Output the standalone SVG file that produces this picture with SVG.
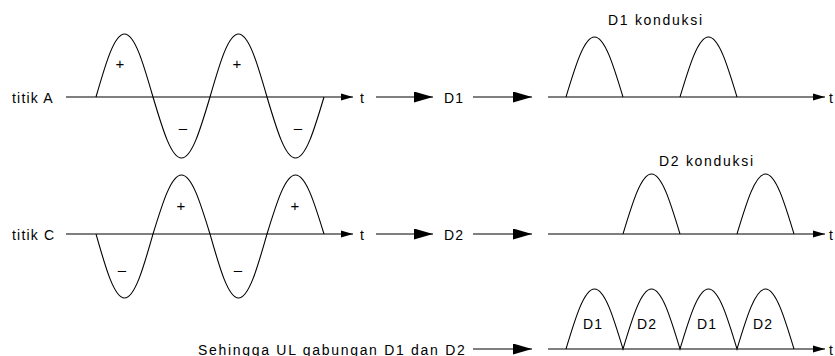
<svg xmlns="http://www.w3.org/2000/svg" width="835" height="356" viewBox="0 0 835 356">
<style>
  text { font-family: "Liberation Sans", Arial, sans-serif; font-size: 14px; fill: #000; letter-spacing: 1.2px; }
  .wide { letter-spacing: 1.7px; }
  .sign { text-anchor: middle; letter-spacing: 0; font-size: 15px; }
  .ln { stroke: #000; stroke-width: 1.1; fill: none; }
  .wave { stroke: #000; stroke-width: 1.1; fill: none; }
</style>
<defs>
  <marker id="sm" markerUnits="userSpaceOnUse" markerWidth="12" markerHeight="8" refX="12" refY="4" orient="auto">
    <path d="M0,0.5 L12,4 L0,7.5 Z" fill="#000"/>
  </marker>
  <marker id="big" markerUnits="userSpaceOnUse" markerWidth="19" markerHeight="11" refX="19" refY="5.5" orient="auto">
    <path d="M0,0 L19,5.5 L0,11 Z" fill="#000"/>
  </marker>
</defs>
<rect width="835" height="356" fill="#fff"/>

<g id="connectors">
  <line class="ln" x1="66" y1="97" x2="353" y2="97" marker-end="url(#sm)"/>
  <line class="ln" x1="376" y1="97" x2="433" y2="97" marker-end="url(#big)"/>
  <line class="ln" x1="473" y1="97" x2="532" y2="97" marker-end="url(#big)"/>
  <line class="ln" x1="548" y1="97" x2="825" y2="97" marker-end="url(#sm)"/>

  <line class="ln" x1="66" y1="234" x2="353" y2="234" marker-end="url(#sm)"/>
  <line class="ln" x1="376" y1="234" x2="433" y2="234" marker-end="url(#big)"/>
  <line class="ln" x1="473" y1="234" x2="532" y2="234" marker-end="url(#big)"/>
  <line class="ln" x1="548" y1="234" x2="825" y2="234" marker-end="url(#sm)"/>

  <line class="ln" x1="473" y1="349" x2="532" y2="349" marker-end="url(#big)"/>
  <line class="ln" x1="548" y1="349" x2="825" y2="349" marker-end="url(#sm)"/>
</g>

<g id="signalA">
  <path class="wave" d="M96,97 C105.53,63.9 114.14,34 124.5,34 C134.86,34 143.47,63.9 153,97 C162.53,129 171.14,158 181.5,158 C191.86,158 200.47,129 210,97 C219.53,63.9 228.14,34 238.5,34 C248.86,34 257.47,63.9 267,97 C276.53,129 285.14,158 295.5,158 C305.86,158 314.47,129 324,97"/>
  <text x="12" y="102.5">titik A</text>
  <text class="sign" x="120" y="68.5">+</text>
  <text class="sign" x="237" y="68.5">+</text>
  <text class="sign" x="183" y="133">–</text>
  <text class="sign" x="298" y="133">–</text>
  <text x="360" y="102.5">t</text>
</g>

<g id="D1">
  <text x="444" y="102.5">D1</text>
</g>

<g id="outputD1">
  <path class="wave" d="M566,97 C575.53,65.5 584.14,37 594.5,37 C604.86,37 613.47,65.5 623,97 M680,97 C689.53,65.5 698.14,37 708.5,37 C718.86,37 727.47,65.5 737,97"/>
  <text class="wide" x="608" y="25">D1 konduksi</text>
  <text x="829" y="102.5">t</text>
</g>

<g id="signalC">
  <path class="wave" d="M96,234 C105.53,267.6 114.14,298 124.5,298 C134.86,298 143.47,267.6 153,234 C162.53,203 171.14,175 181.5,175 C191.86,175 200.47,203 210,234 C219.53,267.6 228.14,298 238.5,298 C248.86,298 257.47,267.6 267,234 C276.53,203 285.14,175 295.5,175 C305.86,175 314.47,203 324,234"/>
  <text x="12" y="239.5">titik C</text>
  <text class="sign" x="122" y="275">–</text>
  <text class="sign" x="238" y="275">–</text>
  <text class="sign" x="181" y="210.5">+</text>
  <text class="sign" x="295" y="210.5">+</text>
  <text x="360" y="239.5">t</text>
</g>

<g id="D2">
  <text x="444" y="239.5">D2</text>
</g>

<g id="outputD2">
  <path class="wave" d="M623,234 C632.53,202.5 641.14,174 651.5,174 C661.86,174 670.47,202.5 680,234 M737,234 C746.53,202.5 755.14,174 765.5,174 C775.86,174 784.47,202.5 794,234"/>
  <text class="wide" x="659" y="166">D2 konduksi</text>
  <text x="829" y="239.5">t</text>
</g>

<g id="combined">
  <text class="wide" x="198" y="354.5">Sehingga UL gabungan D1 dan D2</text>
  <path class="wave" d="M566,349 C575.53,317.5 584.14,289 594.5,289 C604.86,289 613.47,317.5 623,349 C632.53,317.5 641.14,289 651.5,289 C661.86,289 670.47,317.5 680,349 C689.53,317.5 698.14,289 708.5,289 C718.86,289 727.47,317.5 737,349 C746.53,317.5 755.14,289 765.5,289 C775.86,289 784.47,317.5 794,349"/>
  <text x="583" y="329">D1</text>
  <text x="637" y="329">D2</text>
  <text x="697" y="329">D1</text>
  <text x="753" y="329">D2</text>
  <text x="829" y="354.5">t</text>
</g>
</svg>
